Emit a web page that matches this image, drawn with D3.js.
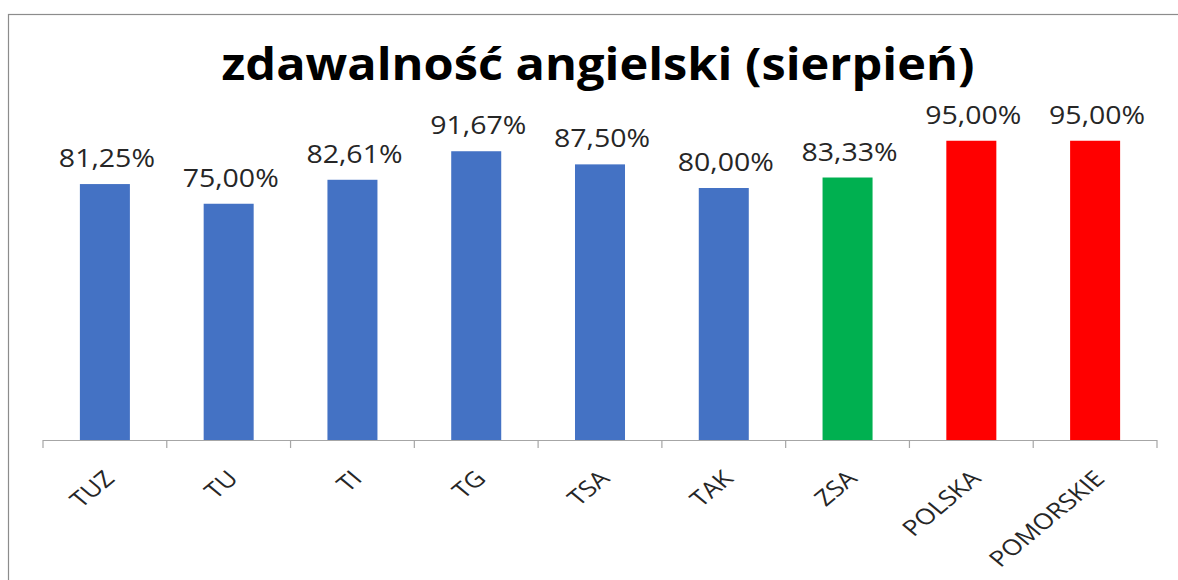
<!DOCTYPE html>
<meta charset="utf-8">
<head>
    <title>zdawalność angielski (sierpień)</title>
    <script src="https://d3js.org/d3.v7.min.js"></script>
    <style>
        body { margin: 0; background: #fff; }
        svg text { font-family: "Open Sans", sans-serif; fill: #000; }
        .value-text { font-size: 25px; fill: #262626; }
        .cat-text { font-size: 22px; fill: #262626; }
        .title-text { font-size: 44px; font-weight: 700; }
    </style>
</head>
<body>
<div id="chart"></div>
<script>
    // data
    var categories = ["TUZ", "TU", "TI", "TG", "TSA", "TAK", "ZSA", "POLSKA", "POMORSKIE"]
    var values = [0.8125, 0.75, 0.8261, 0.9167, 0.875, 0.80, 0.8333, 0.95, 0.95]
    var valueLabels = ["81,25%", "75,00%", "82,61%", "91,67%", "87,50%", "80,00%", "83,33%", "95,00%", "95,00%"]
    var barColors = ["#4472C4", "#4472C4", "#4472C4", "#4472C4", "#4472C4", "#4472C4", "#00B050", "#FF0000", "#FF0000"]
    var titleText = "zdawalność angielski (sierpień)"

    var width = 1178,
        height = 580;

    var svg = d3.select("#chart")
        .append("svg")
        .attr("width", width)
        .attr("height", height)

    // chart border
    svg.append("rect")
        .attr("x", 8.5)
        .attr("y", 14.5)
        .attr("width", 1200)
        .attr("height", 600)
        .style("fill", "none")
        .style("stroke", "#8c8c8c")
        .style("stroke-width", 1.2)

    var x = d3.scaleBand()
        .domain(categories)
        .range([43, 1157])
        .paddingInner(0.596)
        .paddingOuter(0.298)

    var y = d3.scaleLinear()
        .domain([0, 1])
        .range([440, 125])

    // title, stretched to fit
    var title = svg.append("text")
        .attr("class", "title-text")
        .attr("text-anchor", "middle")
        .text(titleText)
    var tw = title.node().getComputedTextLength()
    title.attr("transform", "translate(598, 80) scale(" + (753 / tw) + ",1)")

    // bars
    svg.selectAll("rect.bar")
        .data(categories)
        .enter()
        .append("rect")
        .attr("class", "bar")
        .attr("x", function (d) { return x(d) })
        .attr("width", x.bandwidth())
        .attr("y", function (d, i) { return y(values[i]) })
        .attr("height", function (d, i) { return y(0) - y(values[i]) })
        .style("fill", function (d, i) { return barColors[i] })

    // value labels
    svg.selectAll("text.value-text")
        .data(categories)
        .enter()
        .append("text")
        .attr("class", "value-text")
        .attr("text-anchor", "middle")
        .attr("transform", function (d, i) {
            return "translate(" + (x(d) + x.bandwidth() / 2 + 2) + "," + (y(values[i]) - 17) + ") scale(1.14,1)"
        })
        .text(function (d, i) { return valueLabels[i] })

    // category axis
    var axis = svg.append("g")
    var step = x.step()
    var x0 = x.range()[0]
    axis.append("line")
        .attr("x1", x0)
        .attr("x2", x.range()[1])
        .attr("y1", y(0) + 0.5)
        .attr("y2", y(0) + 0.5)
        .style("stroke", "#a6a6a6")
        .style("stroke-width", 1.2)
    axis.selectAll("line.tick")
        .data(d3.range(categories.length + 1))
        .enter()
        .append("line")
        .attr("class", "tick")
        .attr("x1", function (d) { return x0 + d * step })
        .attr("x2", function (d) { return x0 + d * step })
        .attr("y1", y(0))
        .attr("y2", y(0) + 8)
        .style("stroke", "#a6a6a6")
        .style("stroke-width", 1.2)

    axis.selectAll("text.cat-text")
        .data(categories)
        .enter()
        .append("text")
        .attr("class", "cat-text")
        .attr("text-anchor", "end")
        .attr("transform", function (d) {
            return "translate(" + (x(d) + x.bandwidth() / 2 + 11) + "," + (y(0) + 40) + ") scale(1.2,1) rotate(-45)"
        })
        .text(function (d) { return d })
</script>
</body>
